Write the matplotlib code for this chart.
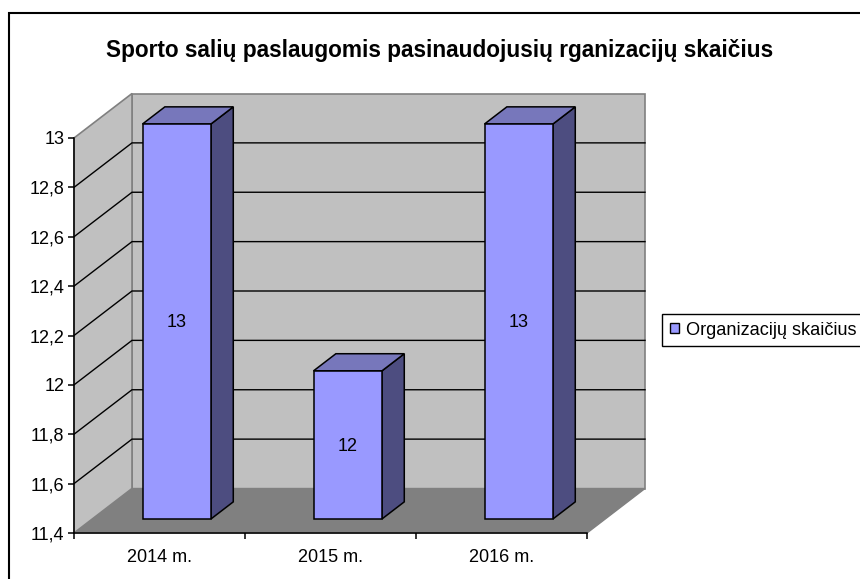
import matplotlib
matplotlib.use("Agg")
import matplotlib.pyplot as plt
from matplotlib.patches import Patch
from matplotlib.lines import Line2D

categories = ["2014 m.", "2015 m.", "2016 m."]
values = [13, 12, 13]
series_name = "Organizacijų skaičius"
title = "Sporto salių paslaugomis pasinaudojusių rganizacijų skaičius"
y_ticks = [11.4, 11.6, 11.8, 12.0, 12.2, 12.4, 12.6, 12.8, 13.0]
y_labels = ["11,4", "11,6", "11,8", "12", "12,2", "12,4", "12,6", "12,8", "13"]

W, H = 860, 579
plt.rcParams["font.family"] = ["Liberation Sans", "DejaVu Sans"]
fig = plt.figure(figsize=(W / 100, H / 100), dpi=100)

# front plane of the 3D box, in pixels
L, R, T, B = 74, 587, 138, 533
ax = fig.add_axes([L / W, 1 - B / H, (R - L) / W, (B - T) / H])
YMIN, YMAX = y_ticks[0], y_ticks[-1]
ax.set_xlim(0, len(categories))
ax.set_ylim(YMIN, YMAX)
ax.patch.set_visible(False)

# depth vector of the box, in data units
DX = 58 / ((R - L) / len(categories))
DY = 44.5 / ((B - T) / (YMAX - YMIN))
D0, D1 = 0.315, 0.70   # bar front and back depth
BAR_W = 0.40
BAR_SHIFT = -0.006
N = len(categories)


def P(x, y, d):
    return x + d * DX, y + d * DY


def face(pts, **kw):
    xs, ys = zip(*[P(*p) for p in pts])
    ax.fill(xs, ys, clip_on=False, **kw)


WALL, FLOOR, EDGE = "#C0C0C0", "#808080", "#808080"
# back wall, floor, left wall
face([(0, YMIN, 1), (N, YMIN, 1), (N, YMAX, 1), (0, YMAX, 1)], fc=WALL, ec=EDGE, lw=1.2, zorder=1)
face([(0, YMIN, 0), (N, YMIN, 0), (N, YMIN, 1), (0, YMIN, 1)], fc=FLOOR, ec=EDGE, lw=1, zorder=1.5)
face([(0, YMIN, 0), (0, YMIN, 1), (0, YMAX, 1), (0, YMAX, 0)], fc=WALL, ec=EDGE, lw=1.2, zorder=1.5)

# gridlines on walls
for v in y_ticks[1:-1]:
    a, b, c = P(0, v, 0), P(0, v, 1), P(N, v, 1)
    ax.plot([a[0], b[0], c[0]], [a[1], b[1], c[1]], color="black", lw=1.0,
            clip_on=False, zorder=2, solid_joinstyle="miter")

FRONT, TOP, SIDE = "#9999FF", "#7777BB", "#4D4D80"
for i, (cat, v) in enumerate(zip(categories, values)):
    c = i + 0.5 + BAR_SHIFT
    x0 = c - BAR_W / 2
    x1 = c + BAR_W / 2
    face([(x1, YMIN, D0), (x1, YMIN, D1), (x1, v, D1), (x1, v, D0)], fc=SIDE, ec="black", lw=1.1, zorder=3)
    face([(x0, v, D0), (x1, v, D0), (x1, v, D1), (x0, v, D1)], fc=TOP, ec="black", lw=1.1, zorder=3)
    fx, fy = P(c, YMIN, D0)
    ax.bar(fx, v - YMIN, BAR_W, bottom=fy, color=FRONT, edgecolor="black", lw=1.1,
           clip_on=False, zorder=4)
    ax.annotate(str(v), (fx, fy + (v - YMIN) / 2), xytext=(0, -1), textcoords="offset points",
                ha="center", va="center", fontsize=13, color="black", zorder=5)

# axes
for s in ("top", "right"):
    ax.spines[s].set_visible(False)
for s in ("left", "bottom"):
    ax.spines[s].set_linewidth(1.1)
    ax.spines[s].set_zorder(2.5)
ax.set_yticks(y_ticks, y_labels, fontsize=13)
ax.tick_params(axis="y", length=4, width=1.1, pad=3)
ax.set_xticks(range(N + 1), [""] * (N + 1))
ax.set_xticks([i + 0.5 for i in range(N)], categories, minor=True, fontsize=13)
ax.tick_params(axis="x", which="major", length=4, width=1.1)
ax.tick_params(axis="x", which="minor", length=0, pad=11.5)

fig.text(440 / W, 1 - 51 / H, title, ha="center", va="center", fontsize=16.3, fontweight="bold")

# chart area border (only left and top fall inside the picture)
fig.add_artist(Line2D([9 / W, 9 / W, 1], [0, 1 - 13 / H, 1 - 13 / H], color="black", lw=1.5,
                      transform=fig.transFigure, solid_joinstyle="miter"))

handle = Patch(fc=FRONT, ec="black", lw=1, label=series_name)
leg = fig.legend(handles=[handle], loc="center left", bbox_to_anchor=(662 / W, 1 - 330 / H),
                 fontsize=13.1, frameon=True, fancybox=False, edgecolor="black", framealpha=1,
                 borderpad=0.42, handlelength=0.5, handleheight=0.5, handletextpad=0.42,
                 borderaxespad=0)
leg.get_frame().set_linewidth(1.0)

fig.savefig("out.png", dpi=100, facecolor="white")
